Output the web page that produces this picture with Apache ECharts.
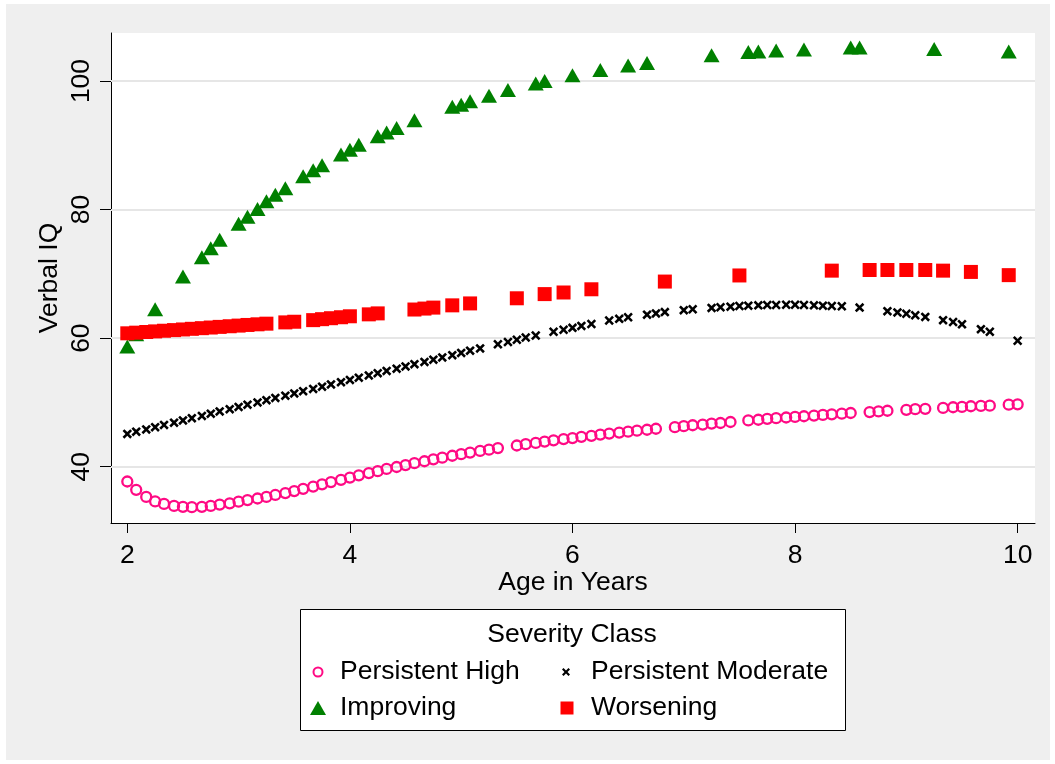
<!DOCTYPE html>
<html>
<head>
<meta charset="utf-8">
<title>Verbal IQ by Age and Severity Class</title>
<script src="https://cdn.jsdelivr.net/npm/echarts@6/dist/echarts.min.js"></script>
<style>
  html, body { margin: 0; padding: 0; background: #ffffff; }
  #chart { width: 1055px; height: 764px; }
</style>
</head>
<body>
<div id="chart"></div>
<script>
// ---- data: age in years (monthly visits) and predicted verbal IQ per class ----
const xTicks = [2, 4, 6, 8, 10];
const yTicks = [40, 60, 80, 100];

const highAge = [
  2.00, 2.08, 2.17, 2.25, 2.33, 2.42, 2.50, 2.58, 2.67, 2.75, 2.83, 2.92,
  3.00, 3.08, 3.17, 3.25, 3.33, 3.42, 3.50, 3.58, 3.67, 3.75, 3.83, 3.92,
  4.00, 4.08, 4.17, 4.25, 4.33, 4.42, 4.50, 4.58, 4.67, 4.75, 4.83, 4.92,
  5.00, 5.08, 5.17, 5.25, 5.33,
  5.50, 5.58, 5.67, 5.75, 5.83, 5.92,
  6.00, 6.08, 6.17, 6.25, 6.33, 6.42, 6.50, 6.58, 6.67, 6.75,
  6.92,
  7.00, 7.08, 7.17, 7.25, 7.33, 7.42,
  7.58, 7.67, 7.75, 7.83, 7.92,
  8.00, 8.08, 8.17, 8.25, 8.33, 8.42, 8.50,
  8.67, 8.75, 8.83,
  9.00, 9.08, 9.17,
  9.33, 9.42, 9.50, 9.58, 9.67, 9.75,
  9.92, 10.00
];
const highIQ = [
  37.7, 36.4, 35.3, 34.6, 34.2, 33.9, 33.75, 33.7, 33.75, 33.9, 34.1, 34.3,
  34.55, 34.8, 35.05, 35.3, 35.6, 35.9, 36.2, 36.55, 36.9, 37.25, 37.6, 37.95,
  38.3, 38.65, 39.0, 39.3, 39.65, 39.95, 40.25, 40.55, 40.85, 41.15, 41.4, 41.7,
  41.95, 42.2, 42.45, 42.65, 42.9,
  43.3, 43.5, 43.7, 43.9, 44.1, 44.3,
  44.45, 44.65, 44.8, 45.0, 45.15, 45.3, 45.45, 45.6, 45.75, 45.9,
  46.15,
  46.3, 46.45, 46.55, 46.7, 46.8, 46.95,
  47.2, 47.3, 47.45, 47.55, 47.65,
  47.75, 47.85, 47.95, 48.05, 48.15, 48.25, 48.35,
  48.5, 48.6, 48.7,
  48.85, 48.95, 49.0,
  49.15, 49.25, 49.3, 49.4, 49.45, 49.5,
  49.65, 49.7
];

const moderateAge = [
  2.00, 2.08, 2.17, 2.25, 2.33, 2.42, 2.50, 2.58, 2.67, 2.75, 2.83, 2.92,
  3.00, 3.08, 3.17, 3.25, 3.33, 3.42, 3.50, 3.58, 3.67, 3.75, 3.83, 3.92,
  4.00, 4.08, 4.17, 4.25, 4.33, 4.42, 4.50, 4.58, 4.67, 4.75, 4.83, 4.92,
  5.00, 5.08, 5.17,
  5.33, 5.42, 5.50, 5.58, 5.67,
  5.83, 5.92, 6.00, 6.08, 6.17,
  6.33, 6.42, 6.50,
  6.67, 6.75, 6.83,
  7.00, 7.08,
  7.25, 7.33, 7.42, 7.50, 7.58, 7.67, 7.75, 7.83, 7.92, 8.00, 8.08, 8.17, 8.25, 8.33, 8.42,
  8.58,
  8.83, 8.92, 9.00, 9.08, 9.17,
  9.33, 9.42, 9.50,
  9.67, 9.75,
  10.00
];
const moderateIQ = [
  45.1, 45.45, 45.8, 46.15, 46.5, 46.85, 47.2, 47.55, 47.9, 48.25, 48.6, 48.95,
  49.3, 49.65, 50.0, 50.35, 50.7, 51.05, 51.4, 51.75, 52.1, 52.45, 52.8, 53.15,
  53.5, 53.85, 54.2, 54.55, 54.9, 55.25, 55.6, 55.95, 56.3, 56.65, 57.0, 57.35,
  57.7, 58.05, 58.4,
  59.05, 59.4, 59.75, 60.1, 60.4,
  61.0, 61.3, 61.6, 61.9, 62.2,
  62.75, 63.0, 63.25,
  63.65, 63.85, 64.05,
  64.35, 64.5,
  64.7, 64.8, 64.9, 65.0, 65.05, 65.1, 65.15, 65.15, 65.2, 65.2, 65.15, 65.1, 65.05, 65.0, 64.95,
  64.75,
  64.2, 64.0, 63.8, 63.55, 63.3,
  62.8, 62.5, 62.15,
  61.4, 61.0,
  59.6
];

const improvingAge = [
  2.00, 2.08, 2.25, 2.50, 2.67, 2.75, 2.83,
  3.00, 3.08, 3.17, 3.25, 3.33, 3.42, 3.58, 3.67, 3.75, 3.92,
  4.00, 4.08, 4.25, 4.33, 4.42, 4.58, 4.92,
  5.00, 5.08, 5.25, 5.42, 5.67, 5.75,
  6.00, 6.25, 6.50, 6.67,
  7.25, 7.58, 7.67, 7.83,
  8.08, 8.50, 8.58,
  9.25, 9.92
];
const improvingIQ = [
  58.7, 60.6, 64.5, 69.6, 72.6, 74.0, 75.3,
  77.8, 78.9, 80.1, 81.3, 82.3, 83.3, 85.2, 86.1, 86.9, 88.55,
  89.3, 90.1, 91.4, 92.0, 92.7, 93.9, 96.0,
  96.3, 96.85, 97.7, 98.6, 99.6, 100.0,
  100.9, 101.7, 102.4, 102.8,
  104.0, 104.5, 104.6, 104.75,
  104.9, 105.2, 105.2,
  105.0, 104.6
];

const worseningAge = [
  2.00, 2.08, 2.17, 2.25, 2.33, 2.42, 2.50, 2.58, 2.67, 2.75, 2.83, 2.92,
  3.00, 3.08, 3.17, 3.25,
  3.42, 3.50,
  3.67, 3.75, 3.83, 3.92, 4.00,
  4.17, 4.25,
  4.58, 4.67, 4.75,
  4.92, 5.08, 5.50, 5.75, 5.92, 6.17, 6.83, 7.50,
  8.33, 8.67, 8.83, 9.00, 9.17, 9.33, 9.58, 9.92
];
const worseningIQ = [
  60.75, 60.85, 60.95, 61.05, 61.15, 61.25, 61.35, 61.45, 61.55, 61.65, 61.75, 61.85,
  61.95, 62.05, 62.15, 62.25,
  62.45, 62.55,
  62.8, 62.95, 63.1, 63.25, 63.4,
  63.7, 63.85,
  64.45, 64.6, 64.75,
  65.1, 65.4, 66.2, 66.85, 67.1, 67.6, 68.8, 69.75,
  70.5, 70.6, 70.6, 70.6, 70.6, 70.5, 70.3, 69.8
];

// ---- drawing ----
const FONT = '"Liberation Sans", Arial, Helvetica, sans-serif';
const FS = 26.5;
const PINK = '#ff0a84';
const GREEN = '#008000';
const RED = '#ff0000';
const GRID = { left: 111, top: 33, width: 924, height: 490 };
const X_MIN = 1.8535, X_MAX = 10.156;
const Y_MIN = 31.24, Y_MAX = 107.47;
const CROSS = 'path://M0,1.9L1.9,0L5,3.1L8.1,0L10,1.9L6.9,5L10,8.1L8.1,10L5,6.9L1.9,10L0,8.1L3.1,5Z';

const pairs = (xs, ys) => xs.map((x, i) => [x, ys[i]]);
const txt = (size) => ({ fontFamily: FONT, fontSize: size, color: '#000' });

// one legend block per key so the two columns line up
function legendFor(name, left, top, w, h, textShift) {
  return {
    data: [name], left: left, top: top, orient: 'horizontal',
    itemWidth: w, itemHeight: h, padding: 0, itemGap: 0,
    selectedMode: false,
    textStyle: Object.assign(txt(FS), { lineHeight: 30, padding: [0, 0, 0, textShift] })
  };
}

const chart = echarts.init(document.getElementById('chart'), null, { renderer: 'canvas' });

chart.setOption({
  animation: false,
  backgroundColor: '#ffffff',
  grid: Object.assign({ show: true, backgroundColor: '#ffffff', borderWidth: 0,
    containLabel: false, outerBoundsMode: 'none' }, GRID),
  xAxis: {
    type: 'value', min: X_MIN, max: X_MAX,
    axisLine: { show: true, onZero: false, lineStyle: { color: '#000', width: 1 } },
    axisTick: { show: true, customValues: xTicks, length: 10, lineStyle: { color: '#000', width: 1 } },
    axisLabel: Object.assign({ customValues: xTicks, margin: 19 }, txt(FS)),
    splitLine: { show: false },
    name: 'Age in Years', nameLocation: 'middle', nameGap: 46, nameMoveOverlap: false,
    nameTextStyle: txt(FS)
  },
  yAxis: [{
    type: 'value', min: Y_MIN, max: Y_MAX, position: 'left',
    axisLine: { show: true, onZero: false, lineStyle: { color: '#000', width: 1 } },
    axisTick: { show: true, customValues: yTicks, length: 11, lineStyle: { color: '#000', width: 1 } },
    axisLabel: Object.assign({ customValues: yTicks, rotate: 90, margin: 16 }, txt(FS)),
    splitLine: { show: false },
    name: 'Verbal IQ', nameLocation: 'middle', nameGap: 48, nameRotate: 90, nameMoveOverlap: false,
    nameTextStyle: txt(FS)
  }, {
    // horizontal reference lines at the labelled values
    type: 'value', min: Y_MIN, max: Y_MAX, position: 'left',
    axisLine: { show: false },
    axisTick: { show: true, inside: true, customValues: yTicks, length: GRID.width,
      lineStyle: { color: '#e6e6e6', width: 2 } },
    axisLabel: { show: false },
    splitLine: { show: false }
  }],
  legend: [
    legendFor('Persistent High', 312.5, 657, 9, 9, 12.5),
    legendFor('Persistent Moderate', 562, 657, 8, 8, 16),
    legendFor('Improving', 310, 693, 16, 14, 9),
    legendFor('Worsening', 560.5, 693, 13, 13, 12.5)
  ],
  graphic: [
    { type: 'rect', z: -10, silent: true,
      shape: { x: 6, y: 4, width: 1044, height: 756 },
      style: { fill: '#efefef' } },
    { type: 'rect', z: -5, silent: true,
      shape: { x: 300.5, y: 609.5, width: 545, height: 121 },
      style: { fill: '#ffffff', stroke: '#000', lineWidth: 1 } },
    { type: 'text', z: 5, silent: true, x: 572, y: 635,
      style: { text: 'Severity Class', fontFamily: FONT, fontSize: FS, fill: '#000',
        align: 'center', verticalAlign: 'middle' } }
  ],
  series: [{
    name: 'Persistent High', type: 'scatter', yAxisIndex: 0,
    data: pairs(highAge, highIQ),
    symbol: 'circle', symbolSize: 10,
    itemStyle: { color: 'rgba(0,0,0,0)', borderColor: PINK, borderWidth: 2.3, opacity: 1 },
    emphasis: { disabled: true }, silent: true
  }, {
    name: 'Persistent Moderate', type: 'scatter', yAxisIndex: 0,
    data: pairs(moderateAge, moderateIQ),
    symbol: CROSS, symbolSize: 9.5,
    itemStyle: { color: '#000', opacity: 1 },
    emphasis: { disabled: true }, silent: true
  }, {
    name: 'Improving', type: 'scatter', yAxisIndex: 0,
    data: pairs(improvingAge, improvingIQ),
    symbol: 'triangle', symbolSize: [16, 14],
    itemStyle: { color: GREEN, opacity: 1 },
    emphasis: { disabled: true }, silent: true
  }, {
    name: 'Worsening', type: 'scatter', yAxisIndex: 0,
    data: pairs(worseningAge, worseningIQ),
    symbol: 'rect', symbolSize: 14,
    itemStyle: { color: RED, opacity: 1 },
    emphasis: { disabled: true }, silent: true
  }]
});
</script>
</body>
</html>
